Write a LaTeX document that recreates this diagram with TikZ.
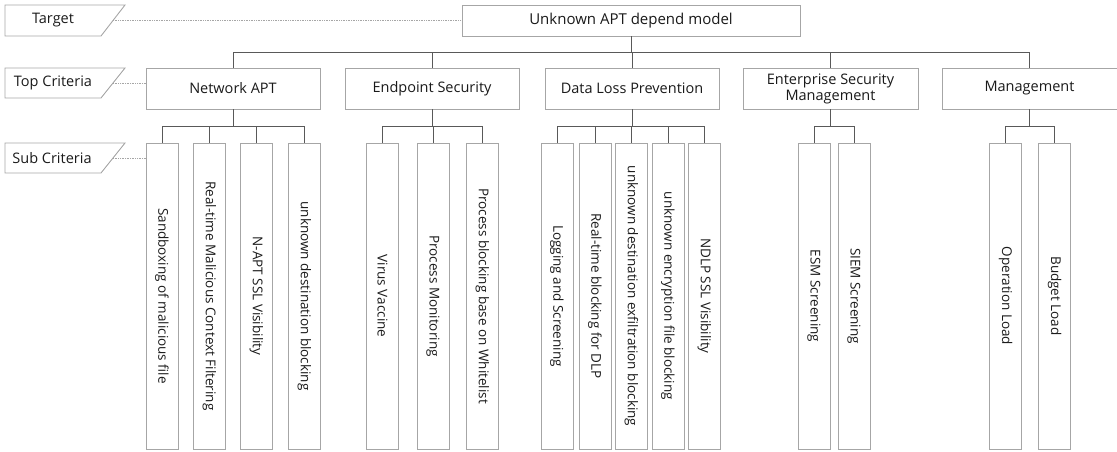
\documentclass[tikz,border=0pt]{standalone}
\usepackage{fontspec}
\setmainfont{Open Sans}
\usetikzlibrary{positioning}
\definecolor{boxgray}{HTML}{A6A6A6}
\definecolor{linegray}{HTML}{595959}
\definecolor{textgray}{HTML}{1A1A1A}

\begin{document}
\begin{tikzpicture}[x=1pt, y=-1pt,
  box/.style={draw=boxgray, line width=0.9pt, fill=white, minimum width=174pt, minimum height=41pt, inner sep=0pt, align=center, text=textgray, font=\fontsize{14.5}{16}\selectfont},
  subbox/.style={draw=boxgray, line width=0.9pt, minimum width=306pt, minimum height=32pt, inner sep=0pt, rotate=-90, text=textgray, font=\fontsize{13.5}{15}\selectfont},
  conn/.style={draw=linegray, line width=0.9pt},
  tag/.style={draw=boxgray, line width=0.9pt},
  tagtext/.style={text=textgray, font=\fontsize{14.5}{16}\selectfont},
  dots/.style={draw=boxgray, line width=0.7pt, densely dotted}]
\useasboundingbox (0,0) rectangle (1117,451);

% level tags on the left
\draw[tag] (5,5) -- (125,5) -- (101,36) -- (5,36) -- cycle;
\draw[tag] (5,68) -- (125,68) -- (101,98) -- (5,98) -- cycle;
\draw[tag] (5,143) -- (125,143) -- (101,173) -- (5,173) -- cycle;
\node[tagtext] (tgt) at (53,20.5) {Target};
\node[tagtext] (topc) at (53,83) {Top Criteria};
\node[tagtext] (subc) at (52,158) {Sub Criteria};
\coordinate (tgtend) at (113,20.5);
\coordinate (topend) at (113,83);
\coordinate (subend) at (113,158);

% goal
\node[box, minimum width=338pt, minimum height=31pt, font=\fontsize{15}{17}\selectfont] (root) at (631,20.5) {Unknown APT depend model};

% top criteria
\node[box] (nap) at (233,88.5) {Network APT};
\node[box] (eps) at (432,88.5) {Endpoint Security};
\node[box] (dlp) at (632,88.5) {Data Loss Prevention};
\node[box, minimum width=175pt] (esm) at (830.5,88.5) {Enterprise Security\\Management};
\node[box, minimum width=175pt] (mgt) at (1029.5,88.5) {Management};

% sub criteria
\node[subbox] (nap1) at (162,296) {Sandboxing of malicious file};
\node[subbox] (nap2) at (209.5,296) {Real-time Malicious Context Filtering};
\node[subbox] (nap3) at (256.5,296) {N-APT SSL Visibility};
\node[subbox] (nap4) at (304.5,296) {unknown destination blocking};

\node[subbox] (eps1) at (382.5,296) {Virus Vaccine};
\node[subbox] (eps2) at (433,296) {Process Monitoring};
\node[subbox] (eps3) at (482.5,296) {Process blocking base on Whitelist};

\node[subbox] (dlp1) at (557,296) {Logging and Screening};
\node[subbox] (dlp2) at (595,296) {Real-time blocking for DLP};
\node[subbox] (dlp3) at (631.5,296) {unknown destination exfiltration blocking};
\node[subbox] (dlp4) at (668,296) {unknown encryption file blocking};
\node[subbox] (dlp5) at (704.5,296) {NDLP SSL Visibility};

\node[subbox] (esm1) at (814,296) {ESM Screening};
\node[subbox] (esm2) at (854,296) {SIEM Screening};

\node[subbox] (mgt1) at (1005.5,296) {Operation Load};
\node[subbox] (mgt2) at (1054.5,296) {Budget Load};

% dotted guides
\draw[dots] (tgtend) -- (root.west);
\draw[dots] (topend) -- (topend -| nap.west);
\draw[dots] (subend) -- (subend -| nap1.south);

% tree
\draw[conn] (root.south) -- ++(0,16) -| (nap.north);
\draw[conn] (root.south) -- ++(0,16) -| (eps.north);
\draw[conn] (root.south) -- ++(0,16) -| (dlp.north);
\draw[conn] (root.south) -- ++(0,16) -| (esm.north);
\draw[conn] (root.south) -- ++(0,16) -| (mgt.north);

\draw[conn] (nap.south) -- ++(0,17) -| (nap1.west);
\draw[conn] (nap.south) -- ++(0,17) -| (nap2.west);
\draw[conn] (nap.south) -- ++(0,17) -| (nap3.west);
\draw[conn] (nap.south) -- ++(0,17) -| (nap4.west);

\draw[conn] (eps.south) -- ++(0,17) -| (eps1.west);
\draw[conn] (eps.south) -- ++(0,17) -| (eps2.west);
\draw[conn] (eps.south) -- ++(0,17) -| (eps3.west);

\draw[conn] (dlp.south) -- ++(0,17) -| (dlp1.west);
\draw[conn] (dlp.south) -- ++(0,17) -| (dlp2.west);
\draw[conn] (dlp.south) -- ++(0,17) -| (dlp3.west);
\draw[conn] (dlp.south) -- ++(0,17) -| (dlp4.west);
\draw[conn] (dlp.south) -- ++(0,17) -| (dlp5.west);

\draw[conn] (esm.south) -- ++(0,17) -| (esm1.west);
\draw[conn] (esm.south) -- ++(0,17) -| (esm2.west);

\draw[conn] (mgt.south) -- ++(0,17) -| (mgt1.west);
\draw[conn] (mgt.south) -- ++(0,17) -| (mgt2.west);
\end{tikzpicture}
\end{document}
